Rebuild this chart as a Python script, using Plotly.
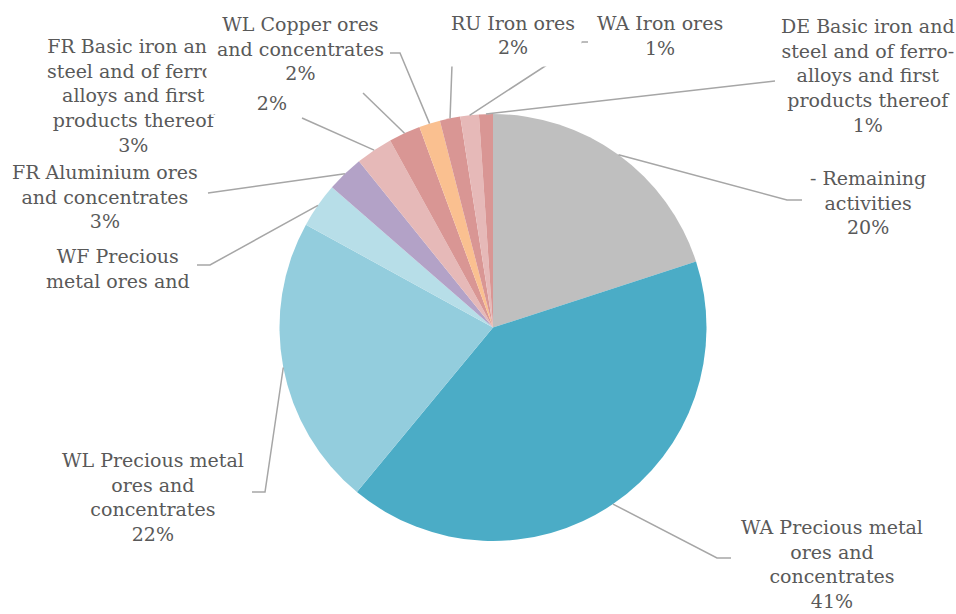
import math
import plotly.graph_objects as go

# Slice data, clockwise from 12 o'clock
names = [
    "- Remaining<br>activities",
    "WA Precious metal<br>ores and<br>concentrates",
    "WL Precious metal<br>ores and<br>concentrates",
    "WF Precious<br>metal ores and",
    "FR Aluminium ores<br>and concentrates",
    "FR Basic iron and<br>steel and of ferro-<br>alloys and first<br>products thereof",
    "",
    "WL Copper ores<br>and concentrates",
    "RU Iron ores",
    "WA Iron ores",
    "DE Basic iron and<br>steel and of ferro-<br>alloys and first<br>products thereof",
]
values = [20.0, 41.0, 22.0, 3.4, 2.8, 2.8, 2.4, 1.6, 1.55, 1.4, 1.05]
show_pct = [True, True, True, False, True, True, True, True, True, True, True]
colors = [
    "#BFBFBF", "#4BACC6", "#93CDDD", "#B7DEE8", "#B3A2C7", "#E6B9B8",
    "#D99694", "#FAC090", "#D99694", "#E6B9B8", "#D99694",
]

# Layout (pixels)
W, H = 956, 614
CX, CY, R = 493.0, 327.5, 213.5
label_xy = [
    (868, 203), (832, 564), (153, 497), (118, 268), (105, 197), (133, 96),
    (247, 73), (300, 48), (513, 35), (660, 35), (868, 75),
]
# label boxes that are sized explicitly (they overlap neighbouring labels)
label_box = {
    6: dict(width=80, height=82, align="right", valign="bottom", borderpad=0),
    8: dict(width=130, height=56),
}
leader_pts = [
    [(787, 200), (802, 200)],
    [(717, 558), (731, 558)],
    [(265, 492), (252, 492)],
    [(210, 265), (197, 265)],
    [(208, 193)],
    [(302, 118)],
    [(363, 93)],
    [(400, 53), (390, 53)],
    [(452, 65), (462, 65)],
    [(582, 42), (588, 42)],
    [(775, 81)],
]


def px(x):
    return x / W


def py(y):
    return 1 - y / H


total = sum(values)
fig = go.Figure(go.Pie(
    values=values,
    sort=False,
    direction="clockwise",
    rotation=0,
    textinfo="none",
    hoverinfo="skip",
    marker=dict(colors=colors, line=dict(width=0)),
    domain=dict(x=[px(CX - R), px(CX + R)], y=[py(CY + R), py(CY - R)]),
    showlegend=False,
))

shapes = []
annotations = []
cum = 0.0
for i, v in enumerate(values):
    mid = math.radians((cum + v / 2) / total * 360)
    cum += v
    ex, ey = CX + R * math.sin(mid), CY - R * math.cos(mid)
    pts = [(ex, ey)] + leader_pts[i]
    path = "M " + " L ".join(f"{px(x):.5f},{py(y):.5f}" for x, y in pts)
    shapes.append(dict(type="path", path=path, xref="paper", yref="paper",
                       line=dict(color="#A6A6A6", width=1.5), layer="above"))

    pct = f"{round(v / total * 100)}%"
    if show_pct[i]:
        text = names[i] + "<br>" + pct if names[i] else pct
    else:
        text = names[i]
    lx, ly = label_xy[i]
    ann = dict(
        text=text, x=px(lx), y=py(ly), xref="paper", yref="paper",
        xanchor="center", yanchor="middle", showarrow=False, align="center",
        bgcolor="white", borderpad=3,
        font=dict(family="DejaVu Serif", size=19, color="#595959"),
    )
    ann.update(label_box.get(i, {}))
    annotations.append(ann)

fig.update_layout(
    width=W, height=H,
    margin=dict(l=0, r=0, t=0, b=0),
    paper_bgcolor="white", plot_bgcolor="white",
    shapes=shapes, annotations=annotations,
)

fig.write_html("out.html")
